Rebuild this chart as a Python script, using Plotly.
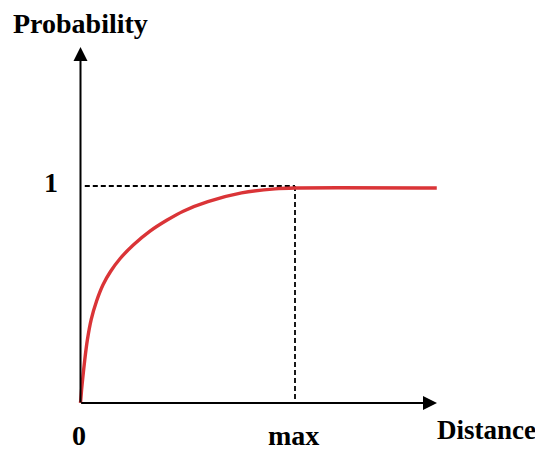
import plotly.graph_objects as go

# Curve data (distance in units of "max", probability)
distance = [0.0, 0.005, 0.010, 0.020, 0.032, 0.050, 0.075, 0.105, 0.140, 0.185, 0.246, 0.324,
            0.402, 0.479, 0.594, 0.751, 0.907, 1.0, 1.661]
probability = [0.0, 0.06, 0.11, 0.20, 0.29, 0.385, 0.47, 0.545, 0.606, 0.666, 0.728, 0.792,
               0.842, 0.884, 0.928, 0.968, 0.987, 0.991, 0.991]

max_x = 1.0
p_one = 1.0
x_axis_end = 1.662
y_axis_end = 1.64

x_ticks = [0.0, max_x]
x_tick_labels = ["0", "max"]
y_ticks = [p_one]
y_tick_labels = ["1"]

font = dict(family="Liberation Serif", size=28, color="black")

fig = go.Figure()

# dashed guides
fig.add_trace(go.Scatter(x=[0.02, max_x], y=[p_one, p_one], mode="lines",
                         line=dict(color="black", width=1.8, dash="5px,3px"), hoverinfo="skip"))
fig.add_trace(go.Scatter(x=[max_x, max_x], y=[p_one, 0], mode="lines",
                         line=dict(color="black", width=1.8, dash="5px,3px"), hoverinfo="skip"))

# red curve
fig.add_trace(go.Scatter(x=distance, y=probability, mode="lines",
                         line=dict(color="rgb(218,52,55)", width=3.4, shape="spline", smoothing=0.6),
                         hoverinfo="skip"))

# axis arrows
fig.add_annotation(x=x_axis_end, y=0, ax=-0.004, ay=0, xref="x", yref="y", axref="x", ayref="y",
                   showarrow=True, arrowhead=2, arrowsize=1.4, arrowwidth=2, arrowcolor="black", text="")
fig.add_annotation(x=0, y=y_axis_end, ax=0, ay=-0.004, xref="x", yref="y", axref="x", ayref="y",
                   showarrow=True, arrowhead=2, arrowsize=1.4, arrowwidth=2, arrowcolor="black", text="")

# tick labels
for xv, lab in zip(x_ticks, x_tick_labels):
    fig.add_annotation(x=xv - 0.007, y=-0.15, xref="x", yref="y", text="<b>%s</b>" % lab,
                       showarrow=False, font=font)
for yv, lab in zip(y_ticks, y_tick_labels):
    fig.add_annotation(x=-0.138, y=yv + 0.014, xref="x", yref="y", text="<b>%s</b>" % lab,
                       showarrow=False, font=font)

# axis titles
fig.add_annotation(x=1.893, y=-0.125, xref="x", yref="y", text="<b>Distance</b>",
                   showarrow=False, font=dict(family="Liberation Serif", size=27, color="black"))
fig.add_annotation(x=-0.002, y=1.751, xref="x", yref="y", text="<b>Probability</b>",
                   showarrow=False, font=font, borderpad=0)

fig.update_layout(
    width=535, height=442,
    margin=dict(l=0, r=0, t=0, b=0),
    paper_bgcolor="white", plot_bgcolor="white",
    showlegend=False,
    xaxis=dict(range=[-0.338, 2.1562], visible=False, fixedrange=True),
    yaxis=dict(range=[-0.2166, 1.8203], visible=False, fixedrange=True),
)

fig.write_html("out.html")
